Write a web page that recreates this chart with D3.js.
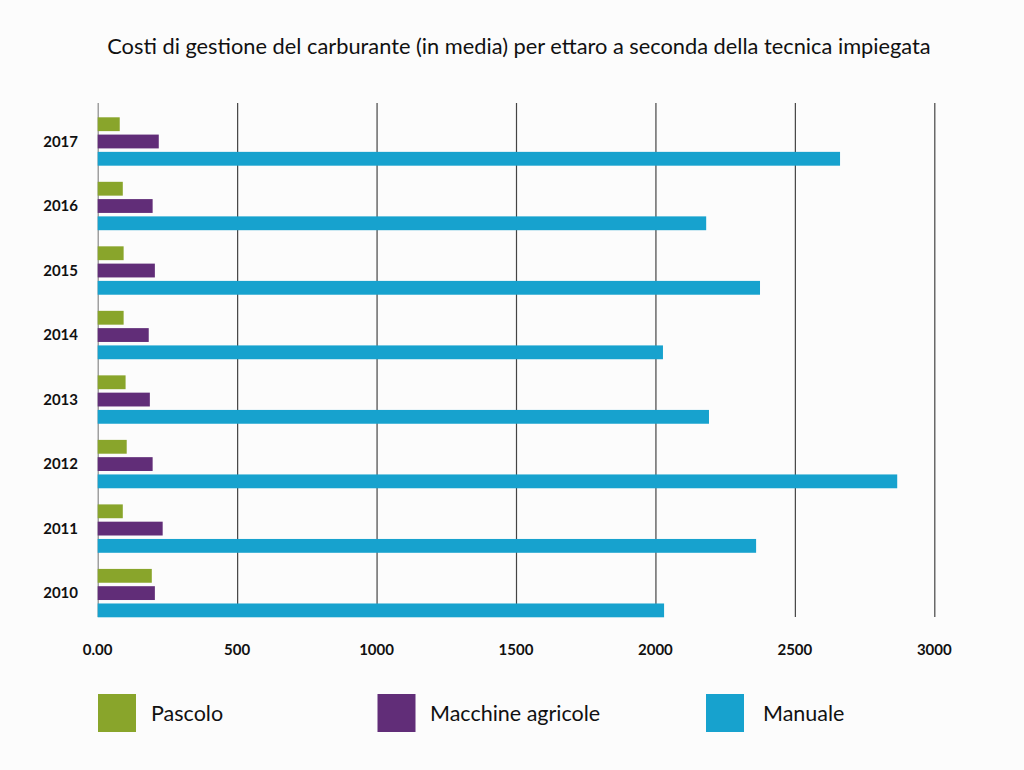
<!DOCTYPE html>
<html>
<head>
<meta charset="utf-8">
<script src="https://cdn.jsdelivr.net/npm/d3@7"></script>
<style>
  html, body { margin: 0; padding: 0; background: #fcfcfc; }
  text { font-family: Lato, "Open Sans", sans-serif; fill: #111; }
</style>
</head>
<body>
<div id="chart"></div>
<script>
// data
var years = ["2017", "2016", "2015", "2014", "2013", "2012", "2011", "2010"];
var series = ["Pascolo", "Macchine agricole", "Manuale"];
var colors = ["#89a52b", "#612d78", "#17a2ce"];
var pascolo = [79, 90, 93, 93, 100, 104, 90, 194];
var macchine = [219, 197, 205, 183, 187, 197, 233, 205];
var manuale = [2662, 2182, 2375, 2027, 2192, 2867, 2361, 2031];
var xTicks = [0, 500, 1000, 1500, 2000, 2500, 3000];
var title = "Costi di gestione del carburante (in media) per ettaro a seconda della tecnica impiegata";

var values = [pascolo, macchine, manuale];

var svg = d3.select('#chart').append('svg')
    .attr('width', 1024)
    .attr('height', 770);

svg.append('rect').attr('width', 1024).attr('height', 770).attr('fill', '#fcfcfc');

var x = d3.scaleLinear().domain([0, 3000]).range([97.7, 934.3]);
var y = d3.scaleBand().domain(years).range([117.3, 617.3]).paddingInner(0.25);
var ySub = d3.scaleBand().domain(series).range([0, y.bandwidth()]).paddingInner(0.2);

// title
svg.append('text')
    .attr('x', 519)
    .attr('y', 54)
    .attr('text-anchor', 'middle')
    .style('font-size', '21.8px')
    .text(title);

// grid lines
svg.append('g').selectAll('line').data(xTicks)
    .enter().append('line')
    .attr('x1', function (d) { return x(d) + 0.5; })
    .attr('x2', function (d) { return x(d) + 0.5; })
    .attr('y1', 103)
    .attr('y2', 617)
    .attr('stroke', function (d) { return d === 0 ? '#888' : '#444'; })
    .attr('stroke-width', 1.2);

// bars
var groups = svg.append('g').selectAll('g').data(years)
    .enter().append('g')
    .attr('transform', function (d) { return 'translate(0,' + y(d) + ')'; });

groups.selectAll('rect').data(function (d, i) {
        return series.map(function (s, j) {
            return { s: s, v: values[j][i], c: colors[j] };
        });
    })
    .enter().append('rect')
    .attr('x', x(0))
    .attr('y', function (d) { return ySub(d.s); })
    .attr('width', function (d) { return x(d.v) - x(0); })
    .attr('height', ySub.bandwidth())
    .attr('fill', function (d) { return d.c; });

// year labels
svg.append('g').selectAll('text').data(years)
    .enter().append('text')
    .attr('x', 78)
    .attr('y', function (d) { return y(d) + ySub('Macchine agricole') + ySub.bandwidth() / 2; })
    .attr('dy', '0.35em')
    .attr('text-anchor', 'end')
    .style('font-size', '15px')
    .style('font-weight', 'bold')
    .text(function (d) { return d; });

// x axis labels
svg.append('g').selectAll('text').data(xTicks)
    .enter().append('text')
    .attr('x', function (d) { return x(d); })
    .attr('y', 650)
    .attr('dy', '0.35em')
    .attr('text-anchor', 'middle')
    .style('font-size', '15px')
    .style('font-weight', 'bold')
    .text(function (d) { return d === 0 ? '0.00' : d; });

// legend
var legendX = [98, 377.5, 706];
var legendTextX = [151, 430, 763];
var legend = svg.append('g').selectAll('g').data(series)
    .enter().append('g');

legend.append('rect')
    .attr('x', function (d, i) { return legendX[i]; })
    .attr('y', 694)
    .attr('width', 38)
    .attr('height', 38)
    .attr('fill', function (d, i) { return colors[i]; });

legend.append('text')
    .attr('x', function (d, i) { return legendTextX[i]; })
    .attr('y', 713)
    .attr('dy', '0.35em')
    .style('font-size', '21.5px')
    .text(function (d) { return d; });
</script>
</body>
</html>
